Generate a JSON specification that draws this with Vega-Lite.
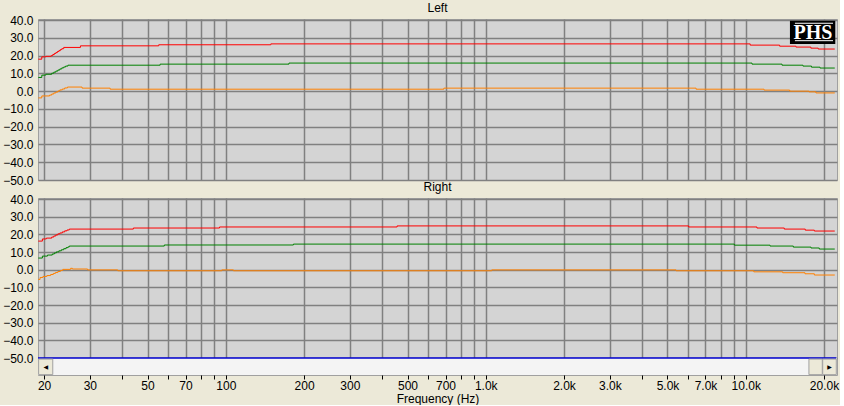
{
  "$schema": "https://vega.github.io/schema/vega-lite/v6.json",
  "background": "#ece9d8",
  "padding": {"left": 0, "top": 1, "right": 0, "bottom": 0},
  "spacing": -7,
  "config": {
    "font": "Liberation Sans",
    "view": {"fill": "#d4d4d4", "stroke": "#a0a0a0", "strokeWidth": 1},
    "title": {"fontSize": 12, "fontWeight": "normal", "color": "#000000", "offset": -1, "font": "Liberation Sans"},
    "axis": {
      "labelFont": "Liberation Sans", "labelFontSize": 12, "labelColor": "#000000",
      "titleFont": "Liberation Sans", "titleFontSize": 12, "titleFontWeight": "normal", "titleColor": "#000000",
      "gridColor": "#808080", "gridOpacity": 1, "gridWidth": 1.5
    },
    "axisY": {"labelPadding": 5, "ticks": false, "domain": false, "minExtent": 37, "maxExtent": 37, "labelOverlap": false, "labelBound": false, "tickCount": 20},
    "axisX": {"tickCount": 40}
  },
  "datasets": {
    "left": [
      {"trace": "hi", "freq": 19.0, "dB": 18.0}, {"trace": "hi", "freq": 19.6, "dB": 19.3}, {"trace": "hi", "freq": 20.3, "dB": 19.6},
      {"trace": "hi", "freq": 21.3, "dB": 20.0}, {"trace": "hi", "freq": 21.6, "dB": 20.6}, {"trace": "hi", "freq": 21.9, "dB": 21.2},
      {"trace": "hi", "freq": 22.2, "dB": 21.7}, {"trace": "hi", "freq": 22.5, "dB": 22.3}, {"trace": "hi", "freq": 22.8, "dB": 22.8},
      {"trace": "hi", "freq": 23.1, "dB": 23.4}, {"trace": "hi", "freq": 23.4, "dB": 23.9}, {"trace": "hi", "freq": 23.8, "dB": 24.6},
      {"trace": "hi", "freq": 27.6, "dB": 25.5}, {"trace": "hi", "freq": 55.2, "dB": 26.1}, {"trace": "hi", "freq": 149, "dB": 26.6},
      {"trace": "hi", "freq": 10400, "dB": 25.9}, {"trace": "hi", "freq": 13500, "dB": 25.3}, {"trace": "hi", "freq": 15600, "dB": 24.8},
      {"trace": "hi", "freq": 17800, "dB": 24.2}, {"trace": "hi", "freq": 19000, "dB": 23.7}, {"trace": "hi", "freq": 22000, "dB": 23.7},
      {"trace": "mid", "freq": 19.0, "dB": 7.7}, {"trace": "mid", "freq": 19.6, "dB": 9.0}, {"trace": "mid", "freq": 20.3, "dB": 9.5},
      {"trace": "mid", "freq": 21.4, "dB": 10.1}, {"trace": "mid", "freq": 21.8, "dB": 10.7}, {"trace": "mid", "freq": 22.2, "dB": 11.3},
      {"trace": "mid", "freq": 22.6, "dB": 11.9}, {"trace": "mid", "freq": 23.0, "dB": 12.5}, {"trace": "mid", "freq": 23.4, "dB": 13.1},
      {"trace": "mid", "freq": 23.8, "dB": 13.6}, {"trace": "mid", "freq": 24.2, "dB": 14.1}, {"trace": "mid", "freq": 24.7, "dB": 14.6},
      {"trace": "mid", "freq": 55.9, "dB": 15.2}, {"trace": "mid", "freq": 175, "dB": 15.8}, {"trace": "mid", "freq": 10570, "dB": 15.2},
      {"trace": "mid", "freq": 13790, "dB": 14.6}, {"trace": "mid", "freq": 16600, "dB": 14.1}, {"trace": "mid", "freq": 17900, "dB": 13.5},
      {"trace": "mid", "freq": 19300, "dB": 13.0}, {"trace": "mid", "freq": 22000, "dB": 13.0},
      {"trace": "lo", "freq": 19.0, "dB": -3.8}, {"trace": "lo", "freq": 19.6, "dB": -2.7}, {"trace": "lo", "freq": 21.0, "dB": -2.2},
      {"trace": "lo", "freq": 21.4, "dB": -1.6}, {"trace": "lo", "freq": 21.8, "dB": -1.0}, {"trace": "lo", "freq": 22.2, "dB": -0.5},
      {"trace": "lo", "freq": 22.6, "dB": 0.1}, {"trace": "lo", "freq": 23.0, "dB": 0.7}, {"trace": "lo", "freq": 23.5, "dB": 1.2},
      {"trace": "lo", "freq": 24.0, "dB": 1.8}, {"trace": "lo", "freq": 24.6, "dB": 2.3}, {"trace": "lo", "freq": 28.0, "dB": 1.7},
      {"trace": "lo", "freq": 35.9, "dB": 1.1}, {"trace": "lo", "freq": 690, "dB": 1.7}, {"trace": "lo", "freq": 6440, "dB": 1.1},
      {"trace": "lo", "freq": 11760, "dB": 0.6}, {"trace": "lo", "freq": 14760, "dB": 0.0}, {"trace": "lo", "freq": 17500, "dB": -0.4},
      {"trace": "lo", "freq": 18620, "dB": -1.0}, {"trace": "lo", "freq": 22000, "dB": -1.0}
    ],
    "right": [
      {"trace": "hi", "freq": 19.0, "dB": 16.2}, {"trace": "hi", "freq": 19.7, "dB": 17.4}, {"trace": "hi", "freq": 20.4, "dB": 17.9},
      {"trace": "hi", "freq": 21.4, "dB": 18.5}, {"trace": "hi", "freq": 21.8, "dB": 19.1}, {"trace": "hi", "freq": 22.2, "dB": 19.7},
      {"trace": "hi", "freq": 22.6, "dB": 20.3}, {"trace": "hi", "freq": 23.0, "dB": 20.8}, {"trace": "hi", "freq": 23.5, "dB": 21.4},
      {"trace": "hi", "freq": 24.0, "dB": 22.0}, {"trace": "hi", "freq": 24.5, "dB": 22.5}, {"trace": "hi", "freq": 25.0, "dB": 23.0},
      {"trace": "hi", "freq": 44.1, "dB": 23.6}, {"trace": "hi", "freq": 94.6, "dB": 24.2}, {"trace": "hi", "freq": 456, "dB": 24.8},
      {"trace": "hi", "freq": 6030, "dB": 24.2}, {"trace": "hi", "freq": 11040, "dB": 23.6}, {"trace": "hi", "freq": 14070, "dB": 23.0},
      {"trace": "hi", "freq": 16940, "dB": 22.4}, {"trace": "hi", "freq": 18360, "dB": 21.9}, {"trace": "hi", "freq": 22000, "dB": 21.9},
      {"trace": "mid", "freq": 19.0, "dB": 6.6}, {"trace": "mid", "freq": 19.7, "dB": 7.7}, {"trace": "mid", "freq": 20.6, "dB": 8.3},
      {"trace": "mid", "freq": 21.5, "dB": 8.9}, {"trace": "mid", "freq": 21.9, "dB": 9.5}, {"trace": "mid", "freq": 22.3, "dB": 10.1},
      {"trace": "mid", "freq": 22.8, "dB": 10.7}, {"trace": "mid", "freq": 23.3, "dB": 11.3}, {"trace": "mid", "freq": 23.8, "dB": 11.9},
      {"trace": "mid", "freq": 24.3, "dB": 12.5}, {"trace": "mid", "freq": 24.7, "dB": 12.9}, {"trace": "mid", "freq": 25.0, "dB": 13.4},
      {"trace": "mid", "freq": 58.0, "dB": 14.0}, {"trace": "mid", "freq": 182, "dB": 14.5}, {"trace": "mid", "freq": 9040, "dB": 13.9},
      {"trace": "mid", "freq": 12400, "dB": 13.4}, {"trace": "mid", "freq": 15240, "dB": 12.8}, {"trace": "mid", "freq": 17820, "dB": 12.3},
      {"trace": "mid", "freq": 19180, "dB": 11.7}, {"trace": "mid", "freq": 22000, "dB": 11.7},
      {"trace": "lo", "freq": 19.0, "dB": -5.5}, {"trace": "lo", "freq": 19.3, "dB": -4.4}, {"trace": "lo", "freq": 19.8, "dB": -3.8},
      {"trace": "lo", "freq": 20.5, "dB": -3.3}, {"trace": "lo", "freq": 21.2, "dB": -2.7}, {"trace": "lo", "freq": 21.7, "dB": -2.1},
      {"trace": "lo", "freq": 22.1, "dB": -1.6}, {"trace": "lo", "freq": 22.6, "dB": -1.0}, {"trace": "lo", "freq": 23.1, "dB": -0.4},
      {"trace": "lo", "freq": 23.6, "dB": 0.2}, {"trace": "lo", "freq": 25.3, "dB": 0.8}, {"trace": "lo", "freq": 25.7, "dB": 0.4},
      {"trace": "lo", "freq": 29.4, "dB": -0.1}, {"trace": "lo", "freq": 38.4, "dB": -0.6}, {"trace": "lo", "freq": 96.5, "dB": -0.1},
      {"trace": "lo", "freq": 107, "dB": -0.6}, {"trace": "lo", "freq": 1054, "dB": -0.1}, {"trace": "lo", "freq": 5394, "dB": -0.6},
      {"trace": "lo", "freq": 10740, "dB": -1.2}, {"trace": "lo", "freq": 13870, "dB": -1.7}, {"trace": "lo", "freq": 16900, "dB": -2.3},
      {"trace": "lo", "freq": 18360, "dB": -3.0}, {"trace": "lo", "freq": 22000, "dB": -3.0}
    ]
  },
  "vconcat": [
    {
      "width": 799,
      "height": 161,
      "title": "Left",
      "layer": [
        {
          "data": {"name": "left"},
          "mark": {"type": "line", "interpolate": "step-after", "strokeWidth": 1},
          "encoding": {
            "x": {
              "field": "freq", "type": "quantitative",
              "scale": {"type": "log", "domain": [18.95, 22440], "nice": false},
              "axis": {
                "values": [20, 30, 40, 50, 60, 70, 80, 90, 100, 200, 300, 400, 500, 600, 700, 800, 900, 1000, 2000, 3000, 4000, 5000, 6000, 7000, 8000, 9000, 10000, 20000],
                "tickCount": 40,
                "grid": true, "labels": false, "ticks": false, "domain": false, "title": null, "minExtent": 0, "maxExtent": 0
              }
            },
            "y": {
              "field": "dB", "type": "quantitative",
              "scale": {"domain": [-50, 40.6], "nice": false, "zero": false},
              "axis": {"values": [-50, -40, -30, -20, -10, 0, 10, 20, 30, 40], "tickCount": 20, "format": ".1f", "title": null, "grid": true, "labelOverlap": false, "labelBound": false, "labelFlush": false}
            },
            "color": {
              "field": "trace", "type": "nominal",
              "scale": {"domain": ["hi", "mid", "lo"], "range": ["#ff0000", "#008000", "#ff8000"]},
              "legend": null
            }
          }
        },
        {
          "data": {"values": [{"item": "logo"}]},
          "mark": {"type": "rect", "fill": "#000000"},
          "encoding": {
            "x": {"datum": 14792, "type": "quantitative"}, "x2": {"datum": 22100},
            "y": {"datum": 39.6, "type": "quantitative"}, "y2": {"datum": 26.5}
          }
        },
        {
          "data": {"values": [{"item": "logo"}]},
          "mark": {"type": "text", "text": "PHS", "font": "Liberation Serif", "fontWeight": "bold", "fontSize": 20, "color": "#ffffff", "align": "center", "baseline": "middle"},
          "encoding": {
            "x": {"datum": 18140, "type": "quantitative"},
            "y": {"datum": 32.6, "type": "quantitative"}
          }
        },
        {
          "data": {"values": [{"item": "logo"}]},
          "mark": {"type": "rule", "color": "#ffffff", "strokeWidth": 1},
          "encoding": {
            "x": {"datum": 15460, "type": "quantitative"}, "x2": {"datum": 21660},
            "y": {"datum": 38.2, "type": "quantitative"}
          }
        },
        {
          "data": {"values": [{"item": "logo"}]},
          "mark": {"type": "rule", "color": "#ffffff", "strokeWidth": 1},
          "encoding": {
            "x": {"datum": 15460, "type": "quantitative"}, "x2": {"datum": 21660},
            "y": {"datum": 28.4, "type": "quantitative"}
          }
        }
      ]
    },
    {
      "width": 799,
      "height": 177,
      "title": "Right",
      "layer": [
        {
          "data": {"name": "right"},
          "mark": {"type": "line", "interpolate": "step-after", "strokeWidth": 1},
          "encoding": {
            "x": {
              "field": "freq", "type": "quantitative",
              "scale": {"type": "log", "domain": [18.95, 22440], "nice": false},
              "axis": {
                "values": [20, 30, 40, 50, 60, 70, 80, 90, 100, 200, 300, 400, 500, 600, 700, 800, 900, 1000, 2000, 3000, 4000, 5000, 6000, 7000, 8000, 9000, 10000, 20000],
                "tickCount": 40,
                "labelExpr": "indexof([20,30,50,70,100,200,300,500,700,1000,2000,3000,5000,7000,10000,20000], datum.value) >= 0 ? (datum.value >= 1000 ? format(datum.value / 1000, '.1f') + 'k' : format(datum.value, 'd')) : ''",
                "grid": true, "ticks": true, "tickSize": 4, "tickColor": "#000000", "domain": false,
                "labelOverlap": false, "labelFlush": false, "labelBound": false, "labelPadding": 1,
                "title": "Frequency (Hz)", "titlePadding": 2
              }
            },
            "y": {
              "field": "dB", "type": "quantitative",
              "scale": {"domain": [-59.6, 40.6], "nice": false, "zero": false},
              "axis": {"values": [-50, -40, -30, -20, -10, 0, 10, 20, 30, 40], "tickCount": 20, "format": ".1f", "title": null, "grid": true, "labelOverlap": false, "labelBound": false, "labelFlush": false}
            },
            "color": {
              "field": "trace", "type": "nominal",
              "scale": {"domain": ["hi", "mid", "lo"], "range": ["#ff0000", "#008000", "#ff8000"]},
              "legend": null
            }
          }
        },
        {
          "data": {"values": [{"item": "scrollbar"}]},
          "mark": {"type": "rect", "fill": "#f4f4f4"},
          "encoding": {
            "x": {"datum": 18.95, "type": "quantitative"}, "x2": {"datum": 22440},
            "y": {"datum": -50, "type": "quantitative"}, "y2": {"datum": -59.6}
          }
        },
        {
          "data": {"values": [{"item": "baseline"}]},
          "mark": {"type": "rule", "color": "#0000d0", "strokeWidth": 1.5},
          "encoding": {
            "x": {"datum": 18.95, "type": "quantitative"}, "x2": {"datum": 22300},
            "y": {"datum": -50, "type": "quantitative"}
          }
        },
        {
          "data": {"values": [{"btn": "left", "lo": 19.05, "hi": 21.6}, {"btn": "thumb", "lo": 17500, "hi": 19700}, {"btn": "right", "lo": 19770, "hi": 22300}]},
          "mark": {"type": "rect", "fill": "#ece9d8", "stroke": "#a0a0a0", "strokeWidth": 1},
          "encoding": {
            "x": {"field": "lo", "type": "quantitative"}, "x2": {"field": "hi"},
            "y": {"datum": -50.6, "type": "quantitative"}, "y2": {"datum": -59.4}
          }
        },
        {
          "data": {"values": [{"arrow": "◀", "at": 20.3}, {"arrow": "▶", "at": 21000}]},
          "mark": {"type": "text", "fontSize": 6, "color": "#000000", "align": "center", "baseline": "middle", "font": "DejaVu Sans"},
          "encoding": {
            "x": {"field": "at", "type": "quantitative"},
            "y": {"datum": -55, "type": "quantitative"},
            "text": {"field": "arrow"}
          }
        }
      ]
    }
  ]
}
